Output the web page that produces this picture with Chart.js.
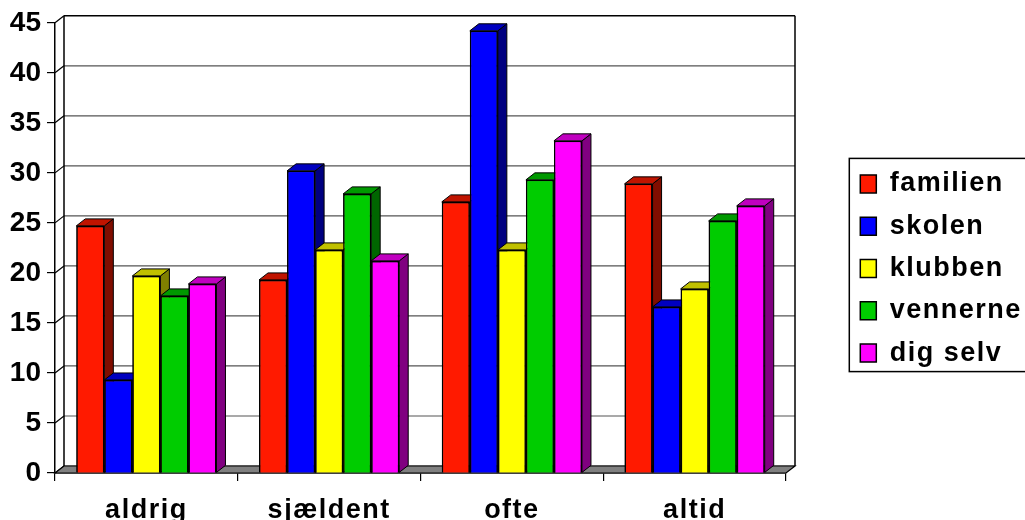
<!DOCTYPE html>
<html>
<head>
<meta charset="utf-8">
<script src="https://cdn.jsdelivr.net/npm/chart.js@4"></script>
<style>
body{margin:0;background:#fff;overflow:hidden}
canvas{display:block}
</style>
</head>
<body>
<canvas id="chart" width="1025" height="520"></canvas>
<script>
const categories = ['aldrig', 'sjældent', 'ofte', 'altid'];
const familien = [24.7, 19.3, 27.1, 28.9];
const skolen = [9.3, 30.2, 44.2, 16.6];
const klubben = [19.7, 22.3, 22.3, 18.4];
const vennerne = [17.7, 27.9, 29.3, 25.2];
const digSelv = [18.9, 21.2, 33.2, 26.7];

const depthX = 9;
const depthY = 7;
const fontName = '"Liberation Sans", Arial, sans-serif';

// front, top and side colours of each series
const seriesStyle = [
    {label: 'familien', data: familien, front: '#ff1a00', top: '#c01400', side: '#800d00'},
    {label: 'skolen', data: skolen, front: '#0000ff', top: '#0000c0', side: '#000080'},
    {label: 'klubben', data: klubben, front: '#ffff00', top: '#c0c000', side: '#808000'},
    {label: 'vennerne', data: vennerne, front: '#00cc00', top: '#009900', side: '#006600'},
    {label: 'dig selv', data: digSelv, front: '#ff00ff', top: '#c000c0', side: '#800080'}
];

function shape(ctx, pts, fill, stroke, width){
    ctx.beginPath();
    pts.forEach((p, i) => i ? ctx.lineTo(p[0], p[1]) : ctx.moveTo(p[0], p[1]));
    ctx.closePath();
    if(fill){ ctx.fillStyle = fill; ctx.fill(); }
    ctx.strokeStyle = stroke;
    ctx.lineWidth = width;
    ctx.stroke();
}

function line(ctx, x1, y1, x2, y2, color, width){
    ctx.beginPath();
    ctx.moveTo(x1, y1);
    ctx.lineTo(x2, y2);
    ctx.strokeStyle = color;
    ctx.lineWidth = width;
    ctx.stroke();
}

const box3d = {
    id: 'box3d',
    beforeUpdate(chart){ chart.ctx.letterSpacing = '1.5px'; },
    afterLayout(chart){
        // legend and x labels are clipped to their boxes, let them run to the canvas edge
        chart.legend.right = chart.width;
        chart.scales.x.bottom = chart.height;
    },
    beforeDraw(chart){
        const ctx = chart.ctx;
        ctx.letterSpacing = '1.5px';
        // border round the legend
        const hit = chart.legend.legendHitBoxes;
        const top = hit[0].top - 12;
        const bottom = hit[hit.length - 1].top + hit[hit.length - 1].height + 5;
        ctx.save();
        ctx.strokeStyle = '#000';
        ctx.lineWidth = 1.5;
        ctx.strokeRect(hit[0].left - 11, top, 300, bottom - top);
        ctx.restore();
    },
    beforeDatasetsDraw(chart){
        const ctx = chart.ctx;
        const a = chart.chartArea;
        const y = chart.scales.y;
        ctx.save();
        // walls and grid lines on the back plane
        y.ticks.forEach(t => {
            const py = y.getPixelForValue(t.value);
            const isTop = t.value === y.max;
            line(ctx, a.left, py, a.left + depthX, py - depthY, '#000', 1.2);
            line(ctx, a.left + depthX, py - depthY, a.right + depthX, py - depthY, isTop ? '#000' : '#555', isTop ? 1.5 : 1.2);
        });
        line(ctx, a.left + depthX, a.top - depthY, a.left + depthX, a.bottom - depthY, '#000', 1.5);
        line(ctx, a.right + depthX, a.top - depthY, a.right + depthX, a.bottom - depthY, '#000', 1.5);
        // floor
        shape(ctx, [[a.left, a.bottom], [a.left + depthX, a.bottom - depthY], [a.right + depthX, a.bottom - depthY], [a.right, a.bottom]], '#808080', '#000', 1.2);
        ctx.restore();
    },
    afterDatasetsDraw(chart){
        const ctx = chart.ctx;
        ctx.save();
        // left to right so each bar covers the side of the one before it
        categories.forEach((c, i) => {
            seriesStyle.forEach((s, d) => {
                const bar = chart.getDatasetMeta(d).data[i];
                const l = bar.x - bar.width / 2;
                const r = bar.x + bar.width / 2;
                shape(ctx, [[r, bar.y], [r + depthX, bar.y - depthY], [r + depthX, bar.base - depthY], [r, bar.base]], s.side, '#000', 1);
                shape(ctx, [[l, bar.y], [l + depthX, bar.y - depthY], [r + depthX, bar.y - depthY], [r, bar.y]], s.top, '#000', 1);
                bar.draw(ctx);
            });
        });
        ctx.restore();
        // the y labels are drawn after this and have no extra spacing
        ctx.letterSpacing = '0px';
    }
};

new Chart(document.getElementById('chart').getContext('2d'), {
    type: 'bar',
    data: {
        labels: categories,
        datasets: seriesStyle.map(s => ({
            label: s.label,
            data: s.data,
            backgroundColor: s.front,
            borderColor: '#000',
            borderWidth: 1.5,
            categoryPercentage: 0.767,
            barPercentage: 1
        }))
    },
    options: {
        responsive: false,
        animation: false,
        layout: {padding: {top: 22, bottom: 5, left: 0, right: 11}},
        plugins: {
            tooltip: {enabled: false},
            legend: {
                position: 'right',
                labels: {
                    boxWidth: 16,
                    boxHeight: 18,
                    padding: 15.3,
                    color: '#000',
                    font: {family: fontName, size: 27, weight: 'bold'}
                }
            }
        },
        scales: {
            x: {
                grid: {drawOnChartArea: false, tickLength: 8, color: '#000', lineWidth: 1.2},
                border: {color: '#000', width: 1.5},
                ticks: {
                    color: '#000',
                    padding: 13,
                    maxRotation: 0,
                    font: {family: fontName, size: 27, weight: 'bold'}
                },
                afterFit(scale){ scale.height = 42; }
            },
            y: {
                min: 0,
                max: 45,
                grid: {drawOnChartArea: false, tickLength: 8, color: '#000', lineWidth: 1.2},
                border: {color: '#000', width: 1.5},
                ticks: {
                    z: 1,
                    stepSize: 5,
                    color: '#000',
                    padding: 6,
                    font: {family: fontName, size: 28, weight: 'bold'}
                },
                afterFit(scale){ scale.width = 55; }
            },
            // empty axis, keeps the space between plot and legend
            gap: {
                axis: 'y',
                position: 'right',
                grid: {display: false},
                border: {display: false},
                ticks: {display: false},
                afterFit(scale){ scale.width = 59; }
            }
        }
    },
    plugins: [box3d]
});
</script>
</body>
</html>
